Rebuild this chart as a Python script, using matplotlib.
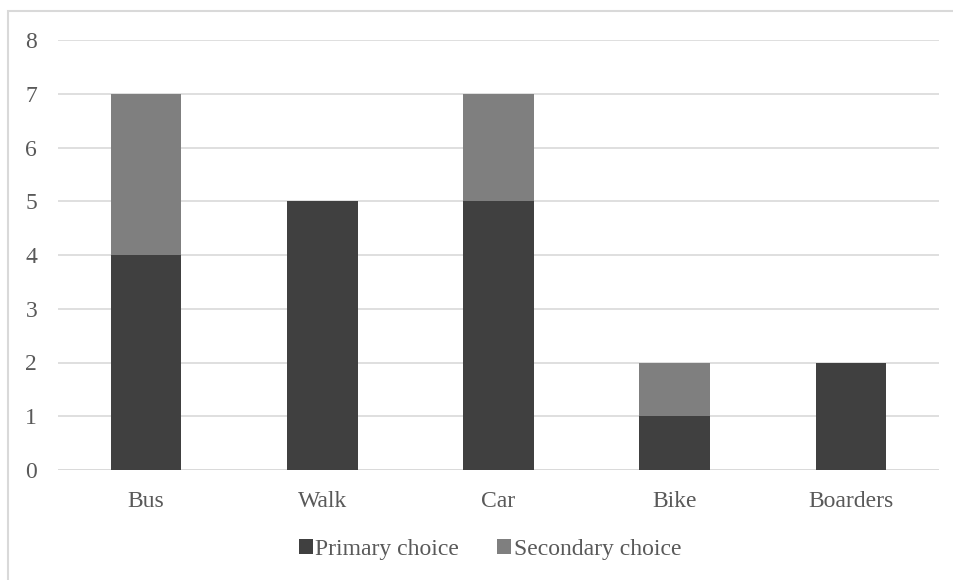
import matplotlib
matplotlib.use("Agg")
import numpy as np
from matplotlib import pyplot as plt
from matplotlib.patches import Rectangle

categories = ["Bus", "Walk", "Car", "Bike", "Boarders"]
primary = [4, 5, 5, 1, 2]
secondary = [3, 0, 2, 1, 0]
yticks = [0, 1, 2, 3, 4, 5, 6, 7, 8]

plt.rcParams['font.family'] = ['Liberation Serif', 'DejaVu Serif']
text_color = '#595959'

fig = plt.figure(figsize=(9.54, 5.8), dpi=100)
ax = fig.add_axes([58/954, 1 - 470/580, 881/954, 430/580])

# outer chart border, runs off the right and bottom edges
fig.patches.append(Rectangle((8/954, -0.5), 2.0, 0.5 + 1 - 11/580,
                             transform=fig.transFigure, fill=False,
                             edgecolor='#d9d9d9', linewidth=1.5))

x = np.arange(len(categories))
ax.bar(x, primary, width=0.4, color='#404040', label='Primary choice', zorder=3)
ax.bar(x, secondary, width=0.4, bottom=primary, color='#7f7f7f',
       label='Secondary choice', zorder=3)

ax.set_xlim(-0.5, len(categories) - 0.5)
ax.set_ylim(0, 8)
ax.set_yticks(yticks)
ax.set_xticks(x)
ax.set_xticklabels(categories)
ax.grid(axis='y', color='#d9d9d9', linewidth=1.2, zorder=0)
for s in ax.spines.values():
    s.set_visible(False)
ax.tick_params(length=0, labelsize=17, colors=text_color)
ax.tick_params(axis='y', pad=15)
ax.tick_params(axis='x', pad=15)
ax.axhline(0, color='#d9d9d9', linewidth=1.2, zorder=2)

leg = fig.legend(loc='center', bbox_to_anchor=(490/954, 1 - 549/580), ncol=2,
                 frameon=False, fontsize=17, handlelength=0.6, handleheight=0.6,
                 handletextpad=0.1, columnspacing=1.6)
for t in leg.get_texts():
    t.set_color(text_color)

fig.savefig('out.png', dpi=100)
